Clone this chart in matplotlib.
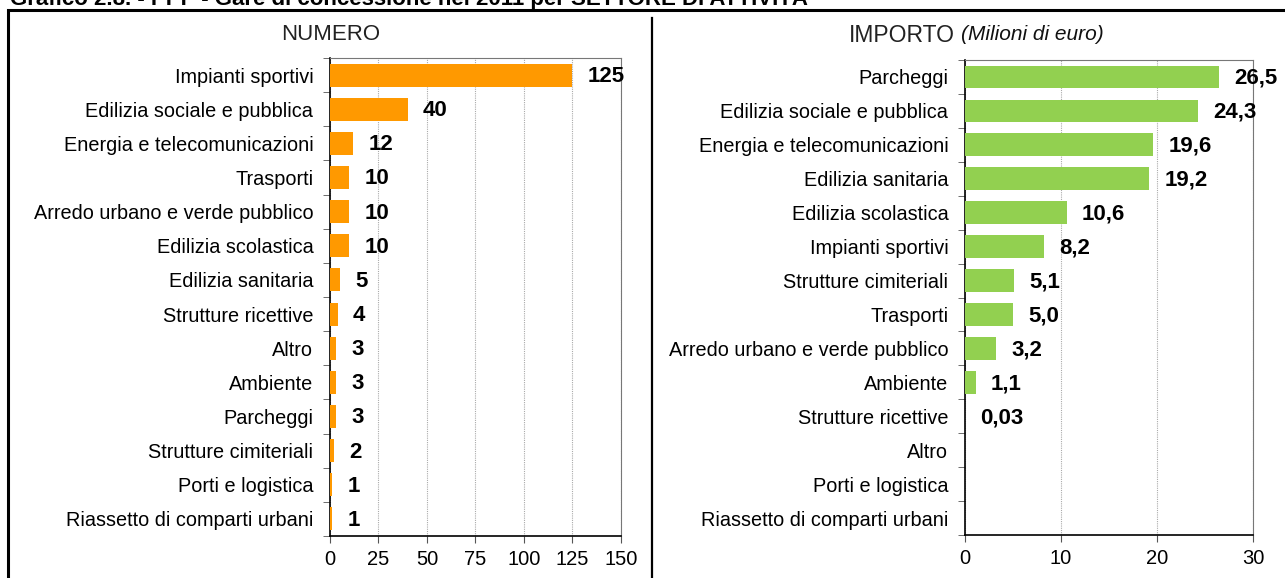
import matplotlib.pyplot as plt
from matplotlib.patches import Rectangle
from matplotlib.lines import Line2D

plt.rcParams['font.family'] = ['Liberation Sans', 'DejaVu Sans']

# data
cat_num = ["Impianti sportivi", "Edilizia sociale e pubblica", "Energia e telecomunicazioni",
           "Trasporti", "Arredo urbano e verde pubblico", "Edilizia scolastica",
           "Edilizia sanitaria", "Strutture ricettive", "Altro", "Ambiente", "Parcheggi",
           "Strutture cimiteriali", "Porti e logistica", "Riassetto di comparti urbani"]
val_num = [125, 40, 12, 10, 10, 10, 5, 4, 3, 3, 3, 2, 1, 1]

cat_imp = ["Parcheggi", "Edilizia sociale e pubblica", "Energia e telecomunicazioni",
           "Edilizia sanitaria", "Edilizia scolastica", "Impianti sportivi",
           "Strutture cimiteriali", "Trasporti", "Arredo urbano e verde pubblico",
           "Ambiente", "Strutture ricettive", "Altro", "Porti e logistica",
           "Riassetto di comparti urbani"]
val_imp = [26.5, 24.3, 19.6, 19.2, 10.6, 8.2, 5.1, 5.0, 3.2, 1.1, 0.03, 0, 0, 0]
lab_imp = ["26,5", "24,3", "19,6", "19,2", "10,6", "8,2", "5,1", "5,0", "3,2", "1,1", "0,03", "", "", ""]

W, H = 1285, 578
fig = plt.figure(figsize=(W / 100, H / 100), dpi=100)


def panel(rect, cats, vals, labels, color, xmax, xticks):
    ax = fig.add_axes(rect)
    y = list(range(len(cats)))
    ax.barh(y, vals, height=0.67, color=color, zorder=3)
    for yi, v, lab in zip(y, vals, labels):
        if lab:
            ax.annotate(lab, (v, yi), xytext=(11, -1), textcoords='offset points',
                        va='center', ha='left', fontsize=16, fontweight='bold')
    ax.set_xlim(0, xmax)
    ax.set_ylim(len(cats) - 0.5, -0.5)
    ax.set_yticks(y)
    ax.set_yticklabels(cats, fontsize=14.3)
    ax.set_yticks([i + 0.5 for i in range(-1, len(cats))], minor=True)
    ax.tick_params(axis='y', which='major', length=0, pad=12)
    ax.tick_params(axis='y', which='minor', length=5, color='#555555')
    ax.set_xticks(xticks)
    ax.tick_params(axis='x', labelsize=14.5, length=5, color='#555555', pad=5)
    ax.grid(axis='x', color='#aaaaaa', linestyle=(0, (1, 1)), linewidth=0.8, zorder=0)
    for s in ['top', 'right']:
        ax.spines[s].set_color('#777777')
    for s in ['left', 'bottom']:
        ax.spines[s].set_color('black')
        ax.spines[s].set_linewidth(1.2)
    return ax


ax1 = panel([330 / W, 1 - 536 / H, (621 - 330) / W, (536 - 58) / H],
            cat_num, val_num, [str(v) for v in val_num], '#FF9900', 150,
            [0, 25, 50, 75, 100, 125, 150])
ax2 = panel([965 / W, 1 - 535 / H, (1253 - 965) / W, (535 - 60) / H],
            cat_imp, val_imp, lab_imp, '#92D050', 30, [0, 10, 20, 30])

fig.text(331 / W, 1 - 35 / H, "NUMERO", ha='center', va='center', fontsize=16,
         color='#222222')
fig.text(955 / W, 1 - 35 / H, "IMPORTO", ha='right', va='center', fontsize=16.5,
         color='#222222')
fig.text(961 / W, 1 - 35 / H, "(Milioni di euro)", ha='left', va='center', fontsize=15,
         style='italic', color='#111111')

# frame and divider
fig.add_artist(Rectangle((8 / W, -0.05), 1.1, 1 - 10 / H + 0.05, transform=fig.transFigure,
                         fill=False, edgecolor='black', linewidth=2.2))
fig.add_artist(Line2D([652 / W, 652 / W], [0, 1 - 18 / H], transform=fig.transFigure,
                      color='black', linewidth=1.6))

# title, cut at the top edge as in the source
fig.text(10 / W, 1 - 5 / H, "Grafico 2.8. - PPP - Gare di concessione nel 2011 per SETTORE DI ATTIVITÀ",
         ha='left', va='baseline', fontsize=16, fontweight='bold')

fig.savefig("out.png", dpi=100)
